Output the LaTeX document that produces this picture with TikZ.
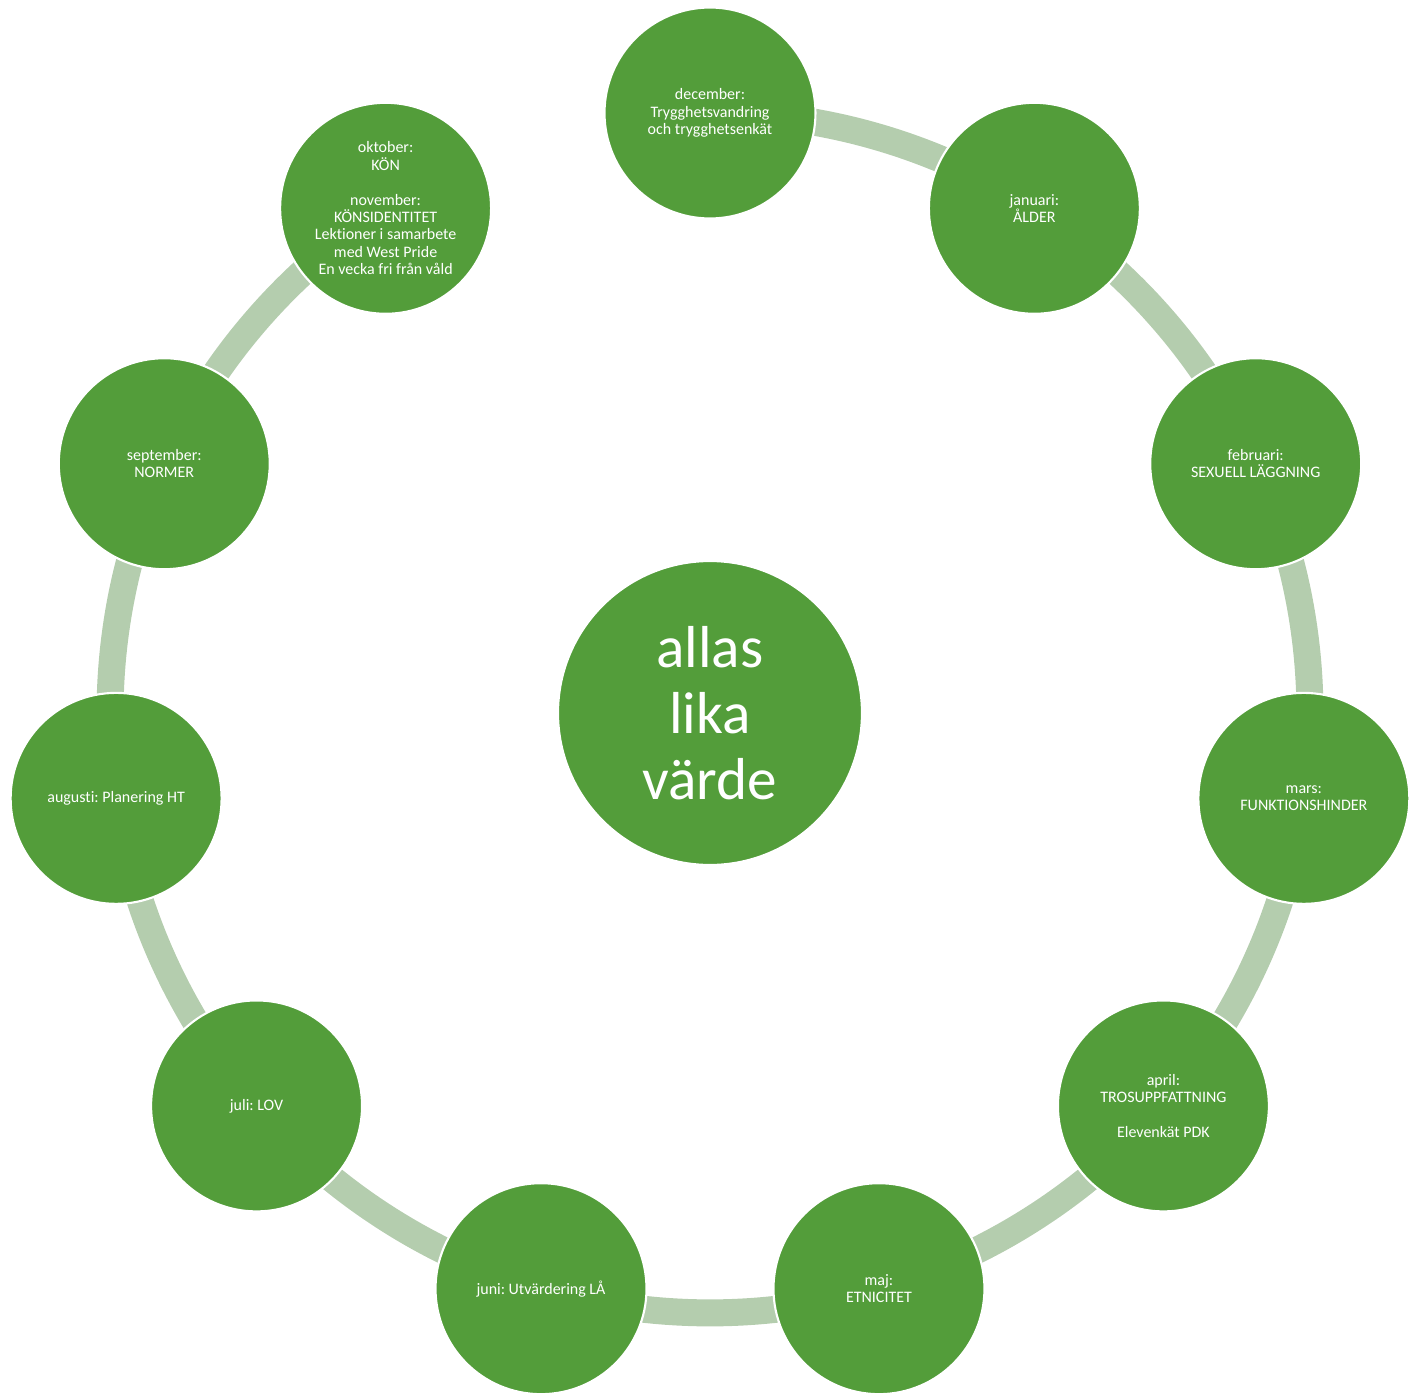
\documentclass[tikz,border=0pt]{standalone}
\usepackage{fontspec}
\setmainfont{Carlito}[Ligatures=NoCommon]
\frenchspacing
\usepackage{tikz}
\usetikzlibrary{shapes,backgrounds}
\definecolor{leaf}{RGB}{83,157,58}
\definecolor{twig}{RGB}{180,205,174}

\begin{document}
\begin{tikzpicture}[x=0.02cm,y=0.02cm]
\tikzstyle{month}=[circle, fill=leaf, draw=white, line width=1.2pt, minimum size=4.22cm, inner sep=0pt, text=white, align=center, font=\fontsize{9.1}{9.9}\selectfont]
\tikzstyle{hub}=[month, minimum size=6.08cm, font=\fontsize{33.7}{37.4}\selectfont]
\tikzstyle{link}=[draw=twig, line width=0.54cm, bend left=16.36, looseness=0.87]
\useasboundingbox (-710,-681) rectangle (711,713);
\node[hub] (mid) at (0,0) {allas\\lika\\värde};
\node[month] (dec) at (90:600) {december:\\Trygghetsvandring\\och trygghetsenkät};
\node[month] (jan) at (57.27:600) {januari:\\ÅLDER};
\node[month] (feb) at (24.55:600) {februari:\\SEXUELL LÄGGNING};
\node[month] (mar) at (-8.18:600) {mars:\\FUNKTIONSHINDER};
\node[month] (apr) at (-40.91:600) {april:\\TROSUPPFATTNING\\[9.9pt]Elevenkät PDK};
\node[month] (maj) at (-73.64:600) {maj:\\ETNICITET};
\node[month] (jun) at (-106.36:600) {juni: Utvärdering LÅ};
\node[month] (jul) at (-139.09:600) {juli: LOV};
\node[month] (aug) at (-171.82:600) {augusti: Planering HT};
\node[month] (sep) at (155.45:600) {september:\\NORMER};
\node[month] (okt) at (122.73:600) {oktober:\\KÖN\\[9.9pt]november:\\KÖNSIDENTITET\\Lektioner i samarbete\\med West Pride\\En vecka fri från våld};
\begin{scope}[on background layer]
\path (dec.center) edge[link] (jan.center)
      (jan.center) edge[link] (feb.center)
      (feb.center) edge[link] (mar.center)
      (mar.center) edge[link] (apr.center)
      (apr.center) edge[link] (maj.center)
      (maj.center) edge[link] (jun.center)
      (jun.center) edge[link] (jul.center)
      (jul.center) edge[link] (aug.center)
      (aug.center) edge[link] (sep.center)
      (sep.center) edge[link] (okt.center);
\end{scope}
\end{tikzpicture}
\end{document}
